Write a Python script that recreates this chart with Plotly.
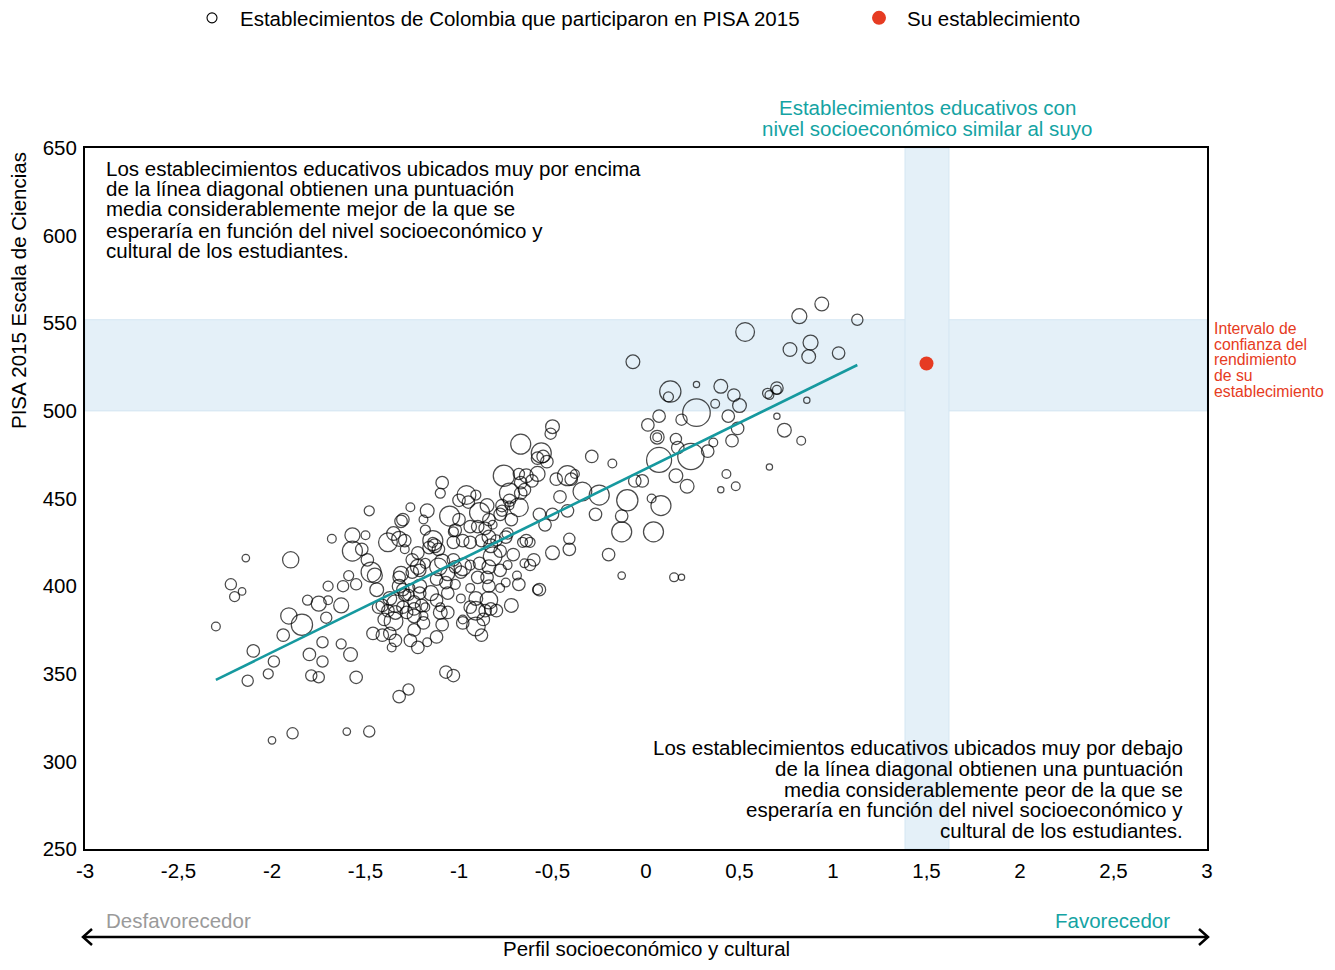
import plotly.graph_objects as go

# ---------------- data ----------------
ese = [-2.30,-2.22,-2.20,-2.16,-2.14,-2.13,-2.10,-2.02,-1.99,-2.00,-1.90,-1.89,-1.94,-1.91,-1.84,-1.81,-1.79,-1.75,-1.75,-1.80,
       -1.73,-1.73,-1.70,-1.68,-1.71,-1.70,-1.63,-1.62,-1.60,-1.58,-1.57,-1.57,-1.63,-1.55,-1.59,-1.55,-1.50,-1.48,-1.48,-1.47,
       -1.44,-1.46,-1.41,-1.43,-1.38,-1.37,-1.35,-1.38,-1.35,-1.36,-1.37,-1.34,-1.30,-1.30,-1.32,-1.27,-1.25,-1.32,-1.27,-1.31,
       -1.29,-1.29,-1.30,-1.26,-1.21,-1.26,-1.24,-1.21,-1.28,-1.34,-1.24,-1.19,-1.26,-1.22,-1.17,-1.12,-1.09,-1.18,-1.14,-1.14,
       -1.16,-1.17,-1.19,-1.09,-1.10,-1.05,-1.03,-0.96,-0.91,-1.03,-0.98,-1.11,-1.11,-1.18,-1.03,-0.98,-0.99,-0.94,-0.89,-0.82,
       -0.78,-0.78,-0.74,-0.71,-0.64,-0.62,-0.66,-0.60,-0.65,-0.50,-0.41,-0.41,-0.20,-0.57,-0.68,-0.72,-0.78,-0.75,-0.84,-0.84,
       -0.90,-0.83,-0.87,-0.91,-0.88,-0.91,-0.98,-0.99,-0.98,-1.06,-1.07,-0.94,-1.06,-1.10,-1.12,-1.18,-1.19,-1.07,-1.03,-0.94,
       -0.80,-0.85,-0.89,-0.90,-0.86,-0.82,-0.77,-0.78,-0.73,-0.68,-0.73,-0.72,-0.76,-0.68,-0.67,-0.61,-0.65,-0.67,-0.56,-0.58,
       -0.53,-0.55,-0.50,-0.51,-0.48,-0.46,-0.42,-0.40,-0.38,-0.42,-0.50,-0.54,-0.57,-0.34,-0.29,-0.18,-0.25,-0.27,-0.10,-0.13,
       -0.13,0.04,0.08,0.03,-0.13,0.15,0.19,-0.06,-0.02,0.07,0.24,0.16,0.22,0.06,0.33,0.43,0.48,0.40,0.06,0.16,
       0.17,0.36,0.46,0.01,0.07,0.19,0.27,0.44,0.49,0.70,0.74,0.83,0.66,0.13,0.12,0.27,0.40,0.47,0.37,0.50,
       0.65,0.66,0.70,0.70,0.86,-0.07,0.53,0.77,0.88,0.87,1.03,0.82,0.94,1.13,-0.94,-0.94,-1.00,-1.22,-1.49,-1.12,
       -1.02,-0.80,-0.69,-0.58,-0.62,
       -1.32,-1.13,-1.02,-1.00,-1.09,-1.06,-1.02,-1.22,-1.25,-1.31,-1.32,-1.29,-1.45,-1.52,-1.21,-1.15,-1.34,-1.24,-1.20,-1.10,
       -1.41,-1.40,-1.24,-0.64,-0.58,-0.67,-0.73,-0.77,-0.95,-0.85,-0.84,-0.84,-0.88,-0.83,-0.75,-0.74,-0.84,-0.91,-0.86]
ciencias = [377,401,394,397,416,346,363,350,357,312,415,316,372,383,378,392,349,348,390,361,
            357,368,400,427,382,392,389,400,317,361,420,429,367,401,406,348,429,443,317,408,
            398,373,372,388,386,393,380,425,430,365,373,369,388,398,405,395,415,337,341,437,
            421,426,438,445,409,399,391,396,385,390,375,379,369,365,368,371,378,432,425,426,
            422,443,438,459,453,440,431,452,452,425,426,421,411,413,415,411,408,412,413,417,
            420,409,412,418,426,425,425,415,413,419,427,421,418,398,401,389,399,402,400,392,
            405,387,381,377,372,386,381,393,379,396,402,399,385,388,392,388,383,351,349,388,
            386,405,442,434,433,435,446,441,453,445,446,438,463,464,459,460,455,481,476,473,
            471,474,491,487,461,451,463,461,464,443,441,435,441,454,474,470,452,441,449,431,
            440,431,446,450,406,405,405,460,460,472,474,463,457,485,477,464,457,455,485,484,
            479,482,483,492,497,495,499,497,490,497,489,483,468,511,508,515,514,509,504,503,
            510,509,513,512,506,528,545,535,539,531,533,554,561,552,425,434,449,419,415,404,
            401,426,406,398,412,
            427,423,432,438,414,407,411,411,408,407,400,395,406,421,400,396,385,387,389,385,
            389,381,383,463,464,453,449,443,448,446,438,428,426,423,428,430,411,393,386]
tamano = [7,9,8,6,6,9,10,8,9,6,13,9,10,13,17,8,9,9,12,10,
          9,9,8,7,9,7,12,9,6,11,16,12,8,9,8,10,7,8,9,16,
          11,10,10,10,10,11,15,15,11,7,10,10,10,10,10,9,10,10,9,10,
          7,10,10,7,10,7,10,10,10,14,10,10,10,10,7,10,10,8,8,16,
          10,11,7,10,8,16,8,15,8,10,10,10,14,8,10,14,10,8,10,15,
          10,10,7,10,10,8,8,10,7,11,9,10,10,10,10,11,7,7,10,14,
          10,10,10,15,10,15,7,7,10,10,10,7,10,7,10,7,7,10,10,10,
          10,10,16,10,10,7,10,10,16,15,7,10,17,9,10,10,10,16,16,10,
          10,10,11,9,10,10,16,10,7,10,10,10,10,15,10,7,16,10,17,16,
          10,16,16,7,6,7,5,10,10,20,21,11,11,7,10,7,7,5,11,9,
          10,7,10,10,10,9,22,10,10,5,11,7,5,17,8,5,11,10,7,11,
          8,7,10,7,5,11,15,11,12,11,10,12,11,9,10,10,10,10,10,10,
          8,9,7,8,9,
          12,11,10,10,12,11,10,12,10,12,11,10,12,10,11,12,11,10,10,11,
          10,10,11,11,12,10,10,9,10,11,10,11,10,11,10,9,11,11,10]

recta_x = [-2.30, 1.13]
recta_y = [346.5, 526.2]

su_x = [1.50]
su_y = [527]

banda_y = [500, 552]
banda_x = [1.385, 1.62]

xticks = [-3, -2.5, -2, -1.5, -1, -0.5, 0, 0.5, 1, 1.5, 2, 2.5, 3]
xticklabels = ["-3", "-2,5", "-2", "-1,5", "-1", "-0,5", "0", "0,5", "1", "1,5", "2", "2,5", "3"]
yticks = [250, 300, 350, 400, 450, 500, 550, 600, 650]

texto_arriba = ["Los establecimientos educativos ubicados muy por encima",
                "de la línea diagonal obtienen una puntuación",
                "media considerablemente mejor de la que se",
                "esperaría en función del nivel socioeconómico y",
                "cultural de los estudiantes."]
texto_abajo = ["Los establecimientos educativos ubicados muy por debajo",
               "de la línea diagonal obtienen una puntuación",
               "media considerablemente peor de la que se",
               "esperaría en función del nivel socioeconómico y",
               "cultural de los estudiantes."]
texto_rojo = ["Intervalo de", "confianza del", "rendimiento", "de su", "establecimiento"]

# ---------------- style ----------------
FONT = "Liberation Sans, Arial, sans-serif"
FS = 20.5
TEAL = "#16999f"
TEAL_TXT = "#14a3a3"
RED = "#e63b22"
BAND = "rgb(228,240,248)"
BAND_LINE = "rgb(212,230,242)"
SIZE_SCALE = 1.25

W, H = 1335, 970
L, R, T, B = 85, 128, 148, 121
PW, PH = W - L - R, H - T - B

def px_x(p):
    return (p - L) / PW

def px_y(p):
    return (H - B - p) / PH

fig = go.Figure()

fig.add_shape(type="rect", xref="x", yref="y", x0=-3, x1=3, y0=banda_y[0], y1=banda_y[1],
              fillcolor=BAND, line=dict(color=BAND_LINE, width=1), layer="below")
fig.add_shape(type="rect", xref="x", yref="y", x0=banda_x[0], x1=banda_x[1], y0=250, y1=650,
              fillcolor=BAND, line=dict(color=BAND_LINE, width=1), layer="below")

fig.add_trace(go.Scatter(
    x=ese, y=ciencias, mode="markers", showlegend=False,
    marker=dict(size=[s * SIZE_SCALE for s in tamano], color="rgba(255,255,255,0)",
                line=dict(color="black", width=1.25)),
    hoverinfo="skip"))

fig.add_trace(go.Scatter(
    x=recta_x, y=recta_y, mode="lines", showlegend=False,
    line=dict(color=TEAL, width=2.6), hoverinfo="skip"))

fig.add_trace(go.Scatter(
    x=[None], y=[None], mode="markers", name="Establecimientos de Colombia que participaron en PISA 2015",
    legend="legend",
    marker=dict(size=10, color="white", line=dict(color="black", width=1.1))))
fig.add_trace(go.Scatter(
    x=su_x, y=su_y, mode="markers", name="Su establecimiento", legend="legend2",
    marker=dict(size=14, color=RED, line=dict(width=0))))

ann = []
for t, p in zip(texto_arriba, [168, 189, 209, 230, 250]):
    ann.append(dict(x=px_x(104), y=px_y(p), xref="paper", yref="paper", text=t, showarrow=False,
                    xanchor="left", yanchor="middle", font=dict(size=FS, color="black", family=FONT)))
for t, p in zip(texto_abajo, [747, 768, 789, 809, 830]):
    ann.append(dict(x=px_x(1185), y=px_y(p), xref="paper", yref="paper", text=t, showarrow=False,
                    xanchor="right", yanchor="middle", font=dict(size=FS, color="black", family=FONT)))
for t, p in zip(["Establecimientos educativos con", "nivel socioeconómico similar al suyo"], [107, 128]):
    ann.append(dict(x=px_x(927), y=px_y(p), xref="paper", yref="paper", text=t, showarrow=False,
                    xanchor="center", yanchor="middle", font=dict(size=FS, color=TEAL_TXT, family=FONT)))
for t, p in zip(texto_rojo, [328, 344, 359, 375, 391]):
    ann.append(dict(x=px_x(1212), y=px_y(p), xref="paper", yref="paper", text=t, showarrow=False,
                    xanchor="left", yanchor="middle", font=dict(size=15.8, color=RED, family=FONT)))
ann.append(dict(x=px_x(18), y=px_y(291), xref="paper", yref="paper", text="PISA 2015 Escala de Ciencias",
                showarrow=False, textangle=-90, xanchor="center", yanchor="middle",
                font=dict(size=FS, color="black", family=FONT)))
ann.append(dict(x=px_x(104), y=px_y(920), xref="paper", yref="paper", text="Desfavorecedor", showarrow=False,
                xanchor="left", yanchor="middle", font=dict(size=FS, color="#9a9a9a", family=FONT)))
ann.append(dict(x=px_x(1172), y=px_y(920), xref="paper", yref="paper", text="Favorecedor", showarrow=False,
                xanchor="right", yanchor="middle", font=dict(size=FS, color=TEAL_TXT, family=FONT)))
ann.append(dict(x=px_x(646), y=px_y(948), xref="paper", yref="paper", text="Perfil socioeconómico y cultural",
                showarrow=False, xanchor="center", yanchor="middle", font=dict(size=FS, color="black", family=FONT)))

for s in [
    dict(type="line", xref="paper", yref="paper", x0=px_x(83), x1=px_x(1208), y0=px_y(937), y1=px_y(937),
         line=dict(color="black", width=2.5)),
    dict(type="path", xref="paper", yref="paper",
         path=f"M {px_x(92)},{px_y(929)} L {px_x(83)},{px_y(937)} L {px_x(92)},{px_y(945)}",
         line=dict(color="black", width=2.5)),
    dict(type="path", xref="paper", yref="paper",
         path=f"M {px_x(1199)},{px_y(929)} L {px_x(1208)},{px_y(937)} L {px_x(1199)},{px_y(945)}",
         line=dict(color="black", width=2.5)),
]:
    fig.add_shape(**s)

leg_common = dict(orientation="h", yanchor="middle", xanchor="left", y=px_y(18),
                  font=dict(size=FS, family=FONT, color="black"), itemwidth=46,
                  bgcolor="rgba(0,0,0,0)", borderwidth=0, itemclick=False, itemdoubleclick=False)

fig.update_layout(
    width=W, height=H,
    margin=dict(l=L, r=R, t=T, b=B, autoexpand=False),
    paper_bgcolor="white", plot_bgcolor="white",
    font=dict(family=FONT, size=FS, color="black"),
    annotations=ann,
    showlegend=True,
    legend=dict(x=px_x(184), **leg_common),
    legend2=dict(x=px_x(851), **leg_common),
    xaxis=dict(range=[-3, 3], tickvals=xticks, ticktext=xticklabels, showgrid=False, zeroline=False,
               showline=True, linecolor="black", linewidth=2, mirror=True,
               ticks="outside", ticklen=2, tickcolor="rgba(0,0,0,0)",
               tickfont=dict(size=FS, family=FONT, color="black")),
    yaxis=dict(range=[250, 650], tickvals=yticks, showgrid=False, zeroline=False,
               showline=True, linecolor="black", linewidth=2, mirror=True,
               ticks="outside", ticklen=2, tickcolor="rgba(0,0,0,0)",
               tickfont=dict(size=FS, family=FONT, color="black")),
)

fig.write_html("out.html", config={"displayModeBar": False},
               post_script="document.body.style.margin='0px';")
